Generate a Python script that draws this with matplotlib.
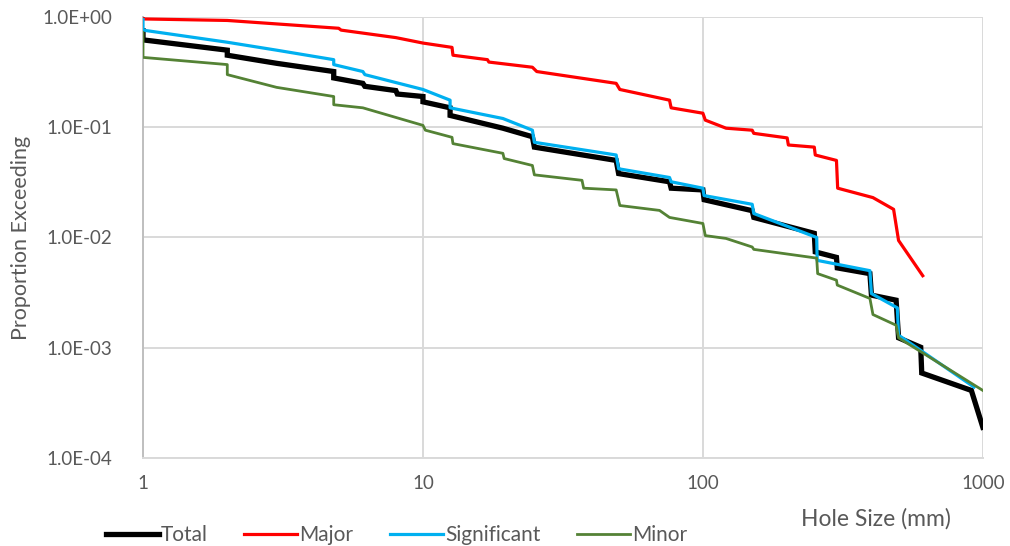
import matplotlib
matplotlib.use("Agg")
import matplotlib.pyplot as plt
from matplotlib.ticker import FixedLocator, FixedFormatter, NullLocator

plt.rcParams['font.family'] = ['Lato', 'DejaVu Sans']

# ---- data ----
total_x = [1, 1, 2, 2, 3, 4.8, 4.8, 6.1, 6.2, 8, 8.1, 10, 10, 12.5, 12.5, 19.3, 24.6, 25, 49, 50, 76, 77,
           100, 101, 150, 152, 250, 252, 300, 302, 395, 400, 490, 500, 600, 605, 910, 1000]
total_y = [0.75, 0.62, 0.50, 0.45, 0.38, 0.32, 0.28, 0.25, 0.235, 0.215, 0.20, 0.19, 0.17, 0.15, 0.128, 0.098,
           0.082, 0.066, 0.05, 0.038, 0.032, 0.028, 0.027, 0.022, 0.0175, 0.0152, 0.0109, 0.0074,
           0.0066, 0.0053, 0.0047, 0.003, 0.0027, 0.00123, 0.00101, 0.00059, 0.00041, 0.00019]

major_x = [1, 1, 2, 5, 5.1, 8, 10, 12.7, 12.8, 17, 17.2, 24.6, 25.5, 49, 50.5, 76, 77, 100, 102, 121, 150, 152,
           200, 202, 250, 252, 300, 303, 405, 480, 500, 610]
major_y = [0.98, 0.96, 0.93, 0.79, 0.76, 0.65, 0.58, 0.53, 0.45, 0.41, 0.39, 0.35, 0.32, 0.25, 0.22, 0.176, 0.15,
           0.134, 0.116, 0.098, 0.094, 0.088, 0.08, 0.069, 0.066, 0.056, 0.05, 0.028, 0.023, 0.018,
           0.0094, 0.0045]

sig_x = [1, 1, 2, 3, 4.8, 4.8, 6.1, 6.2, 10, 12.5, 12.5, 19.3, 24.6, 25, 49, 50, 76, 77, 100, 101,
         150, 152, 255, 256, 395, 400, 495, 500, 930]
sig_y = [0.95, 0.76, 0.59, 0.50, 0.41, 0.37, 0.32, 0.30, 0.22, 0.176, 0.15, 0.12, 0.094, 0.073, 0.056,
         0.042, 0.035, 0.032, 0.028, 0.024, 0.02, 0.0165, 0.01, 0.0062, 0.005, 0.0031, 0.0023,
         0.0013, 0.00044]

minor_x = [1, 1, 2, 2, 3, 4.8, 4.8, 6.1, 10, 10.2, 12.7, 12.8, 19.3, 19.5, 24.6, 25, 37, 37.5,
           49, 50.5, 70, 76, 100, 102, 121, 150, 152, 255, 257, 300, 302, 395, 405, 490, 500, 1000]
minor_y = [0.72, 0.43, 0.37, 0.30, 0.23, 0.19, 0.16, 0.15, 0.104, 0.094, 0.081, 0.071, 0.058,
           0.052, 0.045, 0.037, 0.033, 0.028, 0.027, 0.0195, 0.0176, 0.0152, 0.0134, 0.0104,
           0.0098, 0.0082, 0.0078, 0.0065, 0.0047, 0.0041, 0.0037, 0.0028, 0.002, 0.0016,
           0.00123, 0.00041]

x_ticks = [1, 10, 100, 1000]
x_labels = ["1", "10", "100", "1000"]
y_ticks = [1e-4, 1e-3, 1e-2, 1e-1, 1]
y_labels = ["1.0E-04", "1.0E-03", "1.0E-02", "1.0E-01", "1.0E+00"]

# ---- figure ----
fig = plt.figure(figsize=(10.1, 5.46), dpi=100)
ax = fig.add_axes([0.1416, 0.1612, 0.8315, 0.8077])

ax.plot(total_x, total_y, color="black", lw=3.8, label="Total", solid_joinstyle="miter", zorder=3)
ax.plot(major_x, major_y, color="#FF0000", lw=2.3, label="Major", zorder=4)
ax.plot(sig_x, sig_y, color="#00B0F0", lw=2.3, label="Significant", zorder=5)
ax.plot(minor_x, minor_y, color="#548235", lw=2.0, label="Minor", zorder=6)

ax.set_xscale("log")
ax.set_yscale("log")
ax.set_xlim(1, 1000)
ax.set_ylim(1e-4, 1)

ax.xaxis.set_major_locator(FixedLocator(x_ticks))
ax.xaxis.set_major_formatter(FixedFormatter(x_labels))
ax.xaxis.set_minor_locator(NullLocator())
ax.yaxis.set_major_locator(FixedLocator(y_ticks))
ax.yaxis.set_major_formatter(FixedFormatter(y_labels))
ax.yaxis.set_minor_locator(NullLocator())

ax.grid(True, color="#D9D9D9", lw=1.4, zorder=0)
ax.set_axisbelow(True)
for s in ["top", "right"]:
    ax.spines[s].set_visible(False)
ax.spines["left"].set_color("#BFBFBF")
ax.spines["bottom"].set_color("#D9D9D9")
ax.spines["left"].set_linewidth(1.4)
ax.spines["bottom"].set_linewidth(1.4)

ax.tick_params(axis="both", length=0, labelsize=13.5, labelcolor="#595959")
ax.tick_params(axis="y", pad=22)
ax.tick_params(axis="x", pad=12)

ax.set_ylabel("Proportion Exceeding", fontsize=15.5, color="#595959", labelpad=8)
fig.text(0.941, 0.049, "Hole Size (mm)", fontsize=16.5, color="#595959", ha="right", va="center")

leg = fig.legend(loc="center left", bbox_to_anchor=(0.086, 0.02), ncol=4, frameon=False,
                 fontsize=15, handlelength=2.55, handletextpad=0.1, columnspacing=1.75,
                 labelcolor="#595959")

fig.savefig("out.png", dpi=100)
